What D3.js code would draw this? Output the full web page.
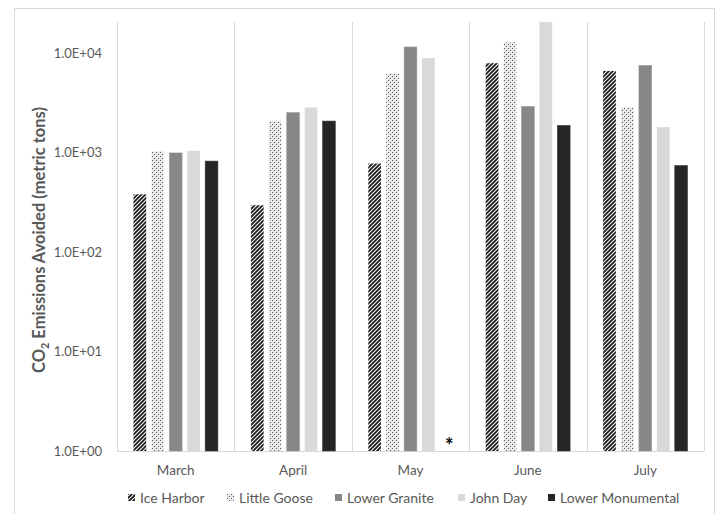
<!DOCTYPE html>
<html>
<head>
<meta charset="utf-8">
<script src="https://cdn.jsdelivr.net/npm/d3@7"></script>
<style>
  body { margin: 0; background: #fff; }
  svg { font-family: Lato, "Liberation Sans", sans-serif; }
</style>
</head>
<body>
<div id="chart"></div>
<script>
// data
var months = ["March", "April", "May", "June", "July"];
var dams = ["Ice Harbor", "Little Goose", "Lower Granite", "John Day", "Lower Monumental"];
var iceHarbor = [380, 295, 775, 7900, 6600];
var littleGoose = [1030, 2080, 6200, 12800, 2850];
var lowerGranite = [990, 2520, 11500, 2900, 7500];
var johnDay = [1040, 2830, 8900, 20500, 1800];
var lowerMonumental = [820, 2070, null, 1870, 740];  // May missing -> asterisk
var yTicks = [1, 10, 100, 1000, 10000];
var yTickLabels = ["1.0E+00", "1.0E+01", "1.0E+02", "1.0E+03", "1.0E+04"];

var seriesValues = [iceHarbor, littleGoose, lowerGranite, johnDay, lowerMonumental];
var fills = ["url(#hatch)", "url(#dots)", "#878787", "#d9d9d9", "#252525"];

var W = 720, H = 514;
var margin = {left: 117, right: 16, top: 22, bottom: 63};

var svg = d3.select("#chart").append("svg")
  .attr("width", W).attr("height", H);

// patterns
var defs = svg.append("defs");
var hatch = defs.append("pattern").attr("id", "hatch")
  .attr("patternUnits", "userSpaceOnUse").attr("width", 4).attr("height", 4);
hatch.append("rect").attr("width", 4).attr("height", 4).attr("fill", "#fff");
hatch.append("path").attr("d", "M-1,1 l2,-2 M0,4 l4,-4 M3,5 l2,-2")
  .attr("stroke", "#1a1a1a").attr("stroke-width", 1.8);

var dots = defs.append("pattern").attr("id", "dots")
  .attr("patternUnits", "userSpaceOnUse").attr("width", 4).attr("height", 4);
dots.append("rect").attr("width", 4).attr("height", 4).attr("fill", "#e6e6e6");
dots.append("rect").attr("x", 0).attr("y", 0).attr("width", 1).attr("height", 1).attr("fill", "#555");
dots.append("rect").attr("x", 2).attr("y", 2).attr("width", 1).attr("height", 1).attr("fill", "#555");
dots.append("rect").attr("x", 1).attr("y", 1).attr("width", 1).attr("height", 1).attr("fill", "#fff");
dots.append("rect").attr("x", 3).attr("y", 3).attr("width", 1).attr("height", 1).attr("fill", "#fff");

// chart border
svg.append("rect").attr("x", 14.5).attr("y", 8.5).attr("width", 700).attr("height", 506)
  .attr("fill", "none").attr("stroke", "#d9d9d9");

var x = d3.scaleBand().domain(months).range([margin.left, W - margin.right]).padding(0);
var xInner = d3.scaleBand().domain(dams).range([16.5, x.bandwidth() - 16.5]).paddingInner(0.29);
var y = d3.scaleLog().domain([1, 20500]).range([H - margin.bottom, margin.top]);

// vertical gridlines at category edges
var edges = months.map(function(m) { return x(m); }).concat([x(months[months.length - 1]) + x.bandwidth()]);
svg.append("g").selectAll("line").data(edges).enter().append("line")
  .attr("x1", function(d) { return Math.round(d) + 0.5; })
  .attr("x2", function(d) { return Math.round(d) + 0.5; })
  .attr("y1", margin.top).attr("y2", y(1))
  .attr("stroke", "#d9d9d9");

// baseline
svg.append("line").attr("x1", margin.left).attr("x2", W - margin.right)
  .attr("y1", Math.round(y(1)) + 0.5).attr("y2", Math.round(y(1)) + 0.5)
  .attr("stroke", "#d9d9d9");

// bars
dams.forEach(function(dam, si) {
  var g = svg.append("g");
  g.selectAll("rect").data(months.map(function(m, i) { return {m: m, v: seriesValues[si][i]}; })
      .filter(function(d) { return d.v != null; }))
    .enter().append("rect")
    .attr("x", function(d) { return x(d.m) + xInner(dam); })
    .attr("width", xInner.bandwidth())
    .attr("y", function(d) { return y(d.v); })
    .attr("height", function(d) { return y(1) - y(d.v); })
    .attr("fill", fills[si])
    .attr("stroke", si == 2 ? "#9a9a9a" : (si == 4 ? "#3a3a3a" : "none"))
    .attr("stroke-width", 0.6);
});

// asterisk for missing May Lower Monumental
svg.append("text")
  .attr("x", x("May") + xInner("Lower Monumental") + xInner.bandwidth() / 2 + 3)
  .attr("y", y(1) + 2)
  .attr("text-anchor", "middle")
  .attr("font-size", 20).attr("font-weight", "bold").attr("fill", "#000")
  .text("*");

// y axis labels
var yAxis = d3.axisLeft(y).tickValues(yTicks)
  .tickFormat(function(d, i) { return yTickLabels[i]; })
  .tickSize(0).tickPadding(15);
var ya = svg.append("g").attr("transform", "translate(" + margin.left + ",0)").call(yAxis);
ya.select(".domain").remove();
ya.selectAll("text").attr("font-size", 13).attr("fill", "#595959")
  .attr("font-family", "Lato, sans-serif");

// x axis labels
svg.append("g").selectAll("text").data(months).enter().append("text")
  .attr("x", function(d) { return x(d) + x.bandwidth() / 2; })
  .attr("y", 475)
  .attr("text-anchor", "middle")
  .attr("font-size", 13.5).attr("fill", "#595959")
  .text(function(d) { return d; });

// y title
var yt = svg.append("text")
  .attr("transform", "translate(45," + 240 + ") rotate(-90)")
  .attr("text-anchor", "middle")
  .attr("font-size", 16.5).attr("font-weight", "bold").attr("fill", "#595959");
yt.append("tspan").text("CO");
yt.append("tspan").attr("dy", 4).attr("font-size", 11).text("2");
yt.append("tspan").attr("dy", -4).text(" Emissions Avoided (metric tons)");

// legend
var legendX = [128, 227, 335, 458, 548];
var lg = svg.append("g").selectAll("g").data(dams).enter().append("g")
  .attr("transform", function(d, i) { return "translate(" + legendX[i] + ",494)"; });
lg.append("rect").attr("width", 7).attr("height", 7)
  .attr("fill", function(d, i) { return fills[i]; });
lg.append("text").attr("x", 12).attr("y", 8.5)
  .attr("font-size", 14).attr("fill", "#595959")
  .text(function(d) { return d; });
</script>
</body>
</html>
